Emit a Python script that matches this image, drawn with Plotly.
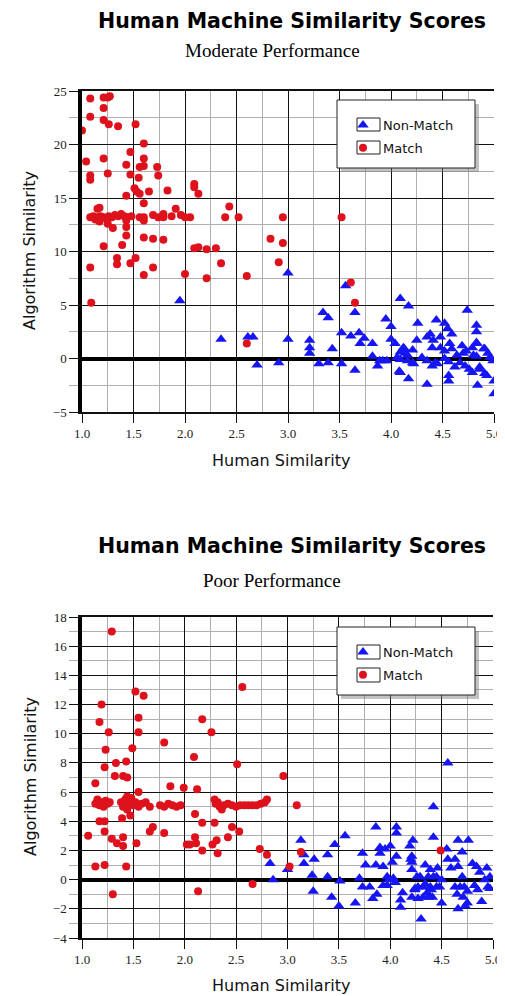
import plotly.graph_objects as go

# ---------------- data: top chart (Moderate Performance) ----------------
top_match_x = [1.00, 1.08, 1.08, 1.04, 1.08, 1.08, 1.08, 1.09, 1.21, 1.25, 1.27, 1.21, 1.21, 1.26, 1.35,
               1.21, 1.25, 1.21,
               1.08, 1.11, 1.13, 1.15, 1.18, 1.21, 1.23, 1.26, 1.29, 1.32, 1.35, 1.38, 1.41, 1.44, 1.48,
               1.15, 1.17, 1.17, 1.25, 1.30, 1.43, 1.43, 1.43, 1.39, 1.34, 1.34, 1.47, 1.52, 1.43, 1.43,
               1.47, 1.47, 1.51, 1.53, 1.56, 1.55, 1.56, 1.60, 1.60, 1.60, 1.52, 1.60, 1.60, 1.60, 1.56,
               1.65, 1.60, 1.69, 1.69, 1.60, 1.69, 1.74, 1.79, 1.79, 1.73, 1.74, 1.79, 1.83, 1.87, 1.91,
               1.96, 2.00, 2.05, 2.00, 2.09, 2.09, 2.13, 2.09, 2.13, 2.21, 2.21, 2.30, 2.35, 2.39, 2.43,
               2.52, 2.95, 3.52, 2.83, 2.95, 2.91, 2.60, 3.61, 3.65, 2.60]
top_match_y = [21.3, 24.3, 22.6, 18.4, 17.1, 16.7, 8.5, 5.2, 24.4, 24.4, 24.5, 23.4, 22.3, 21.9, 21.7,
               18.7, 17.3, 10.5,
               13.2, 13.3, 13.0, 13.2, 13.3, 13.2, 13.1, 13.3, 13.2, 13.4, 13.3, 13.5, 13.3, 13.2, 13.3,
               14.0, 14.1, 12.8, 12.6, 12.2, 12.9, 12.3, 11.5, 10.6, 9.4, 8.8, 8.9, 9.4, 15.2, 18.1,
               19.3, 17.2, 15.9, 15.6, 15.4, 16.9, 17.9, 18.0, 18.7, 20.1, 21.9, 14.5, 13.2, 12.9, 13.2,
               15.6, 11.3, 11.2, 8.5, 7.8, 13.4, 13.2, 13.2, 13.5, 17.9, 17.1, 11.1, 15.7, 13.3, 14.0,
               13.4, 13.2, 13.2, 7.9, 16.3, 16.0, 15.4, 10.3, 10.4, 10.2, 7.5, 10.3, 8.9, 13.2, 14.2,
               13.2, 13.2, 13.2, 11.2, 10.8, 9.0, 7.7, 7.1, 5.2, 1.4]

top_nonmatch_x = [3.00, 3.56, 1.95, 2.35, 2.61, 2.66, 3.00, 2.70, 2.91, 3.21, 3.21, 3.21, 3.30, 3.39, 3.43,
                  3.34, 3.39, 3.65, 3.52, 3.61, 3.69, 3.70, 3.74, 3.82, 3.52, 3.65, 3.82, 3.87, 3.92, 3.96,
                  3.95, 4.00, 4.00, 4.04, 4.09, 4.17, 4.09, 4.13, 4.16, 4.09, 4.17, 4.22, 4.26, 4.35, 4.35,
                  4.38, 4.41, 4.40, 4.44, 4.48, 4.48, 4.52, 4.55, 4.59, 4.30, 4.35, 4.40, 4.45, 4.56, 4.56,
                  4.74, 4.83, 4.83, 4.83, 4.91, 4.94, 4.84, 4.91, 5.00, 5.00, 4.79, 4.86, 4.25, 4.57, 4.59,
                  4.69, 4.73, 4.79, 4.70, 4.80, 4.83, 4.90, 4.96, 4.99, 4.12, 4.14, 4.21, 3.89, 4.06, 4.09,
                  4.16, 4.21, 4.43, 4.52, 4.62, 4.67, 4.72, 4.76, 4.86, 4.93, 4.08, 4.56, 4.83, 4.52, 4.64]
top_nonmatch_y = [8.0, 6.8, 5.4, 1.8, 2.0, 2.0, 1.8, -0.6, -0.4, 1.7, 1.0, 0.5, -0.5, -0.4, 0.9,
                  4.3, 3.8, 4.3, 2.4, 2.1, 2.4, 1.4, 1.9, 1.4, -0.5, -1.1, 0.2, -0.7, -0.2, -0.2,
                  3.7, 3.0, 1.8, 1.4, 5.6, 4.9, 0.6, 0.9, 0.3, -1.3, -1.9, -0.5, 3.3, -2.4, 2.0,
                  2.3, 1.7, 1.0, 3.6, 2.0, 1.0, 3.3, 2.8, 2.3, 0.1, -0.2, -0.7, -0.5, -1.6, -2.1,
                  4.5, 3.1, 2.5, 1.4, 0.9, 0.5, -2.5, -1.4, -2.1, -3.3, -1.3, -0.8, 1.7, 1.4, 0.9,
                  1.2, 0.7, 1.0, 0.5, 0.3, 1.5, 0.9, 0.1, -0.2, 1.0, 0.5, 0.8, -0.2, 0.1, -0.1,
                  -0.2, -0.4, -0.4, 0.7, -0.8, -0.4, -0.7, -1.0, -1.0, -1.6, -1.2, -0.3, 0.2, 0.0, 0.3]

# ---------------- data: bottom chart (Poor Performance) ----------------
bot_match_x = [1.29, 1.06, 1.13, 1.13, 1.17, 1.22, 1.17, 1.19, 1.23, 1.22, 1.22, 1.22, 1.26, 1.30, 1.29,
               1.34, 1.40, 1.40, 1.33, 1.32, 1.40, 1.44, 1.43, 1.39, 1.47, 1.43, 1.44, 1.44, 1.49, 1.52,
               1.60, 1.55, 1.55, 1.55, 1.53, 1.66, 1.69, 1.80, 1.80, 1.86, 1.99, 2.09, 2.17, 2.26, 2.10,
               2.12, 2.17, 2.10, 2.11, 2.02, 2.05, 2.17, 2.13, 2.27, 2.31, 2.32, 2.29, 2.29, 2.32, 2.36,
               2.42, 2.46, 2.53, 2.51, 2.56, 2.73, 2.80, 2.96, 3.09, 3.02, 3.13, 2.66, 4.49,
               1.13, 1.15, 1.17, 1.19, 1.21, 1.23, 1.25, 1.27,
               1.38, 1.40, 1.42, 1.45, 1.48, 1.50, 1.52, 1.55, 1.58, 1.62, 1.66,
               1.76, 1.80, 1.84, 1.88, 1.92, 1.96,
               2.30, 2.34, 2.38, 2.42, 2.46, 2.50, 2.54, 2.58, 2.62, 2.66, 2.70, 2.74, 2.78, 2.80]
bot_match_y = [17.0, 3.0, 6.6, 0.9, 4.0, 4.0, 10.8, 12.0, 8.9, 7.7, 3.3, 1.0, 10.1, -1.0, 2.8,
               2.5, 2.3, 2.9, 8.0, 7.1, 7.1, 7.0, 8.1, 4.2, 4.4, 0.9, 5.7, 4.8, 9.0, 12.9,
               12.6, 11.1, 10.1, 6.0, 2.5, 3.3, 3.6, 9.4, 3.2, 6.4, 6.3, 8.4, 11.0, 10.1, 4.5,
               6.2, 3.9, 2.9, 2.5, 2.4, 2.4, 2.0, -0.8, 2.4, 2.7, 1.8, 3.9, 5.5, 5.3, 4.8,
               2.9, 3.6, 3.3, 7.9, 13.2, 2.1, 1.7, 7.1, 5.1, 0.9, 1.9, -0.3, 2.0,
               5.2, 5.5, 5.1, 5.3, 5.0, 5.4, 5.2, 5.3,
               5.3, 5.0, 5.5, 5.2, 5.6, 5.1, 5.3, 5.0, 5.2, 5.3, 5.0,
               5.1, 5.0, 5.2, 5.1, 5.0, 5.1,
               5.2, 5.0, 5.1, 5.2, 5.1, 5.0, 5.1, 5.1, 5.1, 5.1, 5.1, 5.2, 5.3, 5.5]

bot_nonmatch_x = [2.83, 2.86, 3.00, 3.13, 3.16, 3.16, 3.26, 3.24, 3.25, 3.39, 3.39, 3.43, 3.46, 3.51, 3.50,
                  3.56, 3.66, 3.73, 3.76, 3.70, 3.73, 3.80, 3.86, 3.86, 3.87, 3.83, 3.90, 3.90, 3.93, 3.97,
                  4.00, 4.06, 4.06, 4.02, 3.99, 4.05, 3.97, 4.03, 4.06, 4.12, 4.10, 4.10, 4.21, 4.19, 4.22,
                  4.21, 4.21, 4.26, 4.24, 4.30, 4.34, 4.39, 4.37, 4.42, 4.34, 4.39, 4.36, 4.41, 4.45, 4.42,
                  4.42, 4.56, 4.50, 3.95, 4.20, 4.21, 4.66, 4.76, 4.70, 4.55, 4.56, 4.63, 4.59, 4.66, 4.80,
                  4.84, 4.94, 4.46, 4.45, 4.50, 4.48, 4.40, 4.32, 4.27, 4.29, 4.70, 4.87, 4.92, 4.63, 4.68,
                  4.72, 4.75, 4.82, 4.85, 4.95, 4.65, 4.71, 4.75, 4.73, 4.66, 4.89, 4.24, 4.27, 4.32, 4.37,
                  4.97, 4.97, 3.93]
bot_nonmatch_y = [1.1, 0.0, 0.7, 2.7, 1.7, 1.1, 1.4, 0.3, -0.8, 1.7, 0.2, -1.2, 2.4, -0.1, -1.8,
                  3.0, -1.6, 1.8, 1.0, 0.1, -0.5, -0.5, 3.6, 1.0, -1.0, -1.3, 2.2, 1.8, 0.9, 0.2,
                  2.3, 3.6, 3.2, 1.2, 0.0, -0.2, -0.4, 0.1, 1.6, -0.9, -1.4, -1.9, -1.2, 2.3, 2.7,
                  1.6, 1.2, 0.2, -0.6, -2.7, 1.0, 0.7, 0.2, 0.2, -0.3, -0.5, -0.9, -1.2, -0.5, 2.9,
                  5.0, 8.0, -1.6, 2.1, 1.4, 0.7, 2.7, 2.7, 1.9, 2.1, 1.4, 1.4, 0.8, 0.9, 1.1,
                  0.9, 0.8, 0.8, 0.2, 0.0, -0.5, -0.7, -0.5, -0.5, 0.2, 0.2, 0.5, 0.0, -0.5, -0.5,
                  -0.5, -0.8, -0.4, -0.7, -0.5, -1.0, -1.2, -1.6, -1.8, -2.0, -1.5, -0.7, -1.3, -1.2, -1.2,
                  0.2, -0.6, -0.4]

series_names = ["Non-Match", "Match"]
titles = ["Human Machine Similarity Scores", "Human Machine Similarity Scores"]
subtitles = ["Moderate Performance", "Poor Performance"]
x_title = "Human Similarity"
y_title = "Algorithm Similarity"

# ---------------- styling / layout ----------------
OFF = 8                      # page body margin of the browser
W, H = 505 - OFF, 996 - OFF  # figure size so that it fills the window exactly
RED = "rgb(222,18,28)"
BLUE = "rgb(22,22,245)"


def px(x):
    """window pixel x -> paper coordinate"""
    return (x - OFF) / W


def py(y):
    """window pixel y -> paper coordinate"""
    return 1 - (y - OFF) / H


fig = go.Figure()

fig.add_trace(go.Scatter(x=top_nonmatch_x, y=top_nonmatch_y, mode="markers", name=series_names[0],
                         marker=dict(symbol="triangle-up", size=10, color=BLUE),
                         xaxis="x", yaxis="y", legend="legend", legendgroup="a"))
fig.add_trace(go.Scatter(x=top_match_x, y=top_match_y, mode="markers", name=series_names[1],
                         marker=dict(symbol="circle", size=8, color=RED),
                         xaxis="x", yaxis="y", legend="legend", legendgroup="b"))
fig.add_trace(go.Scatter(x=bot_nonmatch_x, y=bot_nonmatch_y, mode="markers", name=series_names[0],
                         marker=dict(symbol="triangle-up", size=10, color=BLUE),
                         xaxis="x2", yaxis="y2", legend="legend2", legendgroup="c"))
fig.add_trace(go.Scatter(x=bot_match_x, y=bot_match_y, mode="markers", name=series_names[1],
                         marker=dict(symbol="circle", size=8, color=RED),
                         xaxis="x2", yaxis="y2", legend="legend2", legendgroup="d"))

tick_font = dict(family="Liberation Serif, Times New Roman, serif", size=13, color="#222")
title_font = dict(family="DejaVu Sans, sans-serif", size=16, color="#111")


def xaxis_cfg(anchor):
    return dict(range=[1, 5], dtick=0.5, tick0=1, tickformat=".1f", anchor=anchor,
                automargin=False,
                showgrid=True, gridcolor="#111", gridwidth=1.3,
                minor=dict(dtick=0.25, showgrid=True, gridcolor="#b0b0b0", gridwidth=1.3),
                ticks="outside", ticklen=9, tickcolor="#111", tickwidth=1.3,
                showline=True, linecolor="#111", linewidth=1.5, mirror=True,
                zeroline=False, tickfont=tick_font, fixedrange=True)


def yaxis_cfg(anchor, rng, dt, mdt):
    return dict(range=rng, dtick=dt, tick0=0, anchor=anchor,
                automargin=False,
                showgrid=True, gridcolor="#111", gridwidth=1.3,
                minor=dict(dtick=mdt, showgrid=True, gridcolor="#b0b0b0", gridwidth=1.3,
                           ticks="outside", ticklen=9, tickcolor="#b0b0b0"),
                ticks="outside", ticklen=9, tickcolor="#111", tickwidth=1.3,
                showline=True, linecolor="#000", linewidth=3.5, mirror=False,
                zeroline=True, zerolinecolor="#000", zerolinewidth=3.5,
                tickfont=tick_font, fixedrange=True)


fig.update_layout(
    width=W, height=H, margin=dict(l=0, r=0, t=0, b=0, autoexpand=False),
    paper_bgcolor="white", plot_bgcolor="white",
    xaxis=dict(domain=[px(82), px(494)], **xaxis_cfg("y")),
    yaxis=dict(domain=[py(412), py(91)], **yaxis_cfg("x", [-5, 25], 5, 2.5)),
    xaxis2=dict(domain=[px(82), px(493)], **xaxis_cfg("y2")),
    yaxis2=dict(domain=[py(938), py(617)], **yaxis_cfg("x2", [-4, 18], 2, 1)),
    legend=dict(x=px(343), y=py(110), xanchor="left", yanchor="top",
                bgcolor="rgba(0,0,0,0)", borderwidth=0, tracegroupgap=3,
                font=dict(family="DejaVu Sans, sans-serif", size=13, color="#111")),
    legend2=dict(x=px(343), y=py(637), xanchor="left", yanchor="top",
                 bgcolor="rgba(0,0,0,0)", borderwidth=0, tracegroupgap=3,
                 font=dict(family="DejaVu Sans, sans-serif", size=13, color="#111")),
    showlegend=True,
)

annotations = []
for i, (ttl, sub, sy, ay, ax_y) in enumerate([(titles[0], subtitles[0], 50, 460, 251),
                                               (titles[1], subtitles[1], 580, 985, 777)]):
    if i == 0:
        t_pos = dict(y=py(8.5), yanchor="top")
    else:
        t_pos = dict(y=py(546), yanchor="middle")
    annotations.append(dict(text="<b>%s</b>" % ttl, x=px(292), xref="paper", yref="paper",
                            showarrow=False, xanchor="center", borderpad=0,
                            font=dict(family="DejaVu Sans, sans-serif", size=20.5, color="#000"),
                            **t_pos))
    annotations.append(dict(text=sub, x=px(272), y=py(sy), xref="paper", yref="paper",
                            showarrow=False, xanchor="center", yanchor="middle",
                            font=dict(family="Liberation Serif, Times New Roman, serif", size=19, color="#000")))
    annotations.append(dict(text=x_title, x=px(281), y=py(ay), xref="paper", yref="paper",
                            showarrow=False, xanchor="center", yanchor="middle", font=title_font))
    annotations.append(dict(text=y_title, x=px(30), y=py(ax_y), xref="paper", yref="paper",
                            showarrow=False, xanchor="center", yanchor="middle", textangle=-90,
                            font=title_font))
fig.update_layout(annotations=annotations)

shapes = []
for (x0, y0, x1, y1, b1, b2) in [(337, 100, 475, 168, (118, 131), (141, 154)),
                                  (337, 627, 475, 695, (645, 659), (668, 682))]:
    shapes.append(dict(type="rect", xref="paper", yref="paper", layer="above",
                       x0=px(x0 + 4), x1=px(x1 + 4), y0=py(y0 + 4), y1=py(y1 + 4),
                       fillcolor="rgba(120,120,120,0.45)", line=dict(width=0)))
    shapes.append(dict(type="rect", xref="paper", yref="paper", layer="above",
                       x0=px(x0), x1=px(x1), y0=py(y0), y1=py(y1),
                       fillcolor="white", line=dict(color="#222", width=1)))
    for (a, b) in (b1, b2):
        shapes.append(dict(type="rect", xref="paper", yref="paper", layer="above",
                           x0=px(357), x1=px(380), y0=py(a), y1=py(b),
                           fillcolor="white", line=dict(color="#222", width=1)))
fig.update_layout(shapes=shapes)

fig.write_html("out.html")
